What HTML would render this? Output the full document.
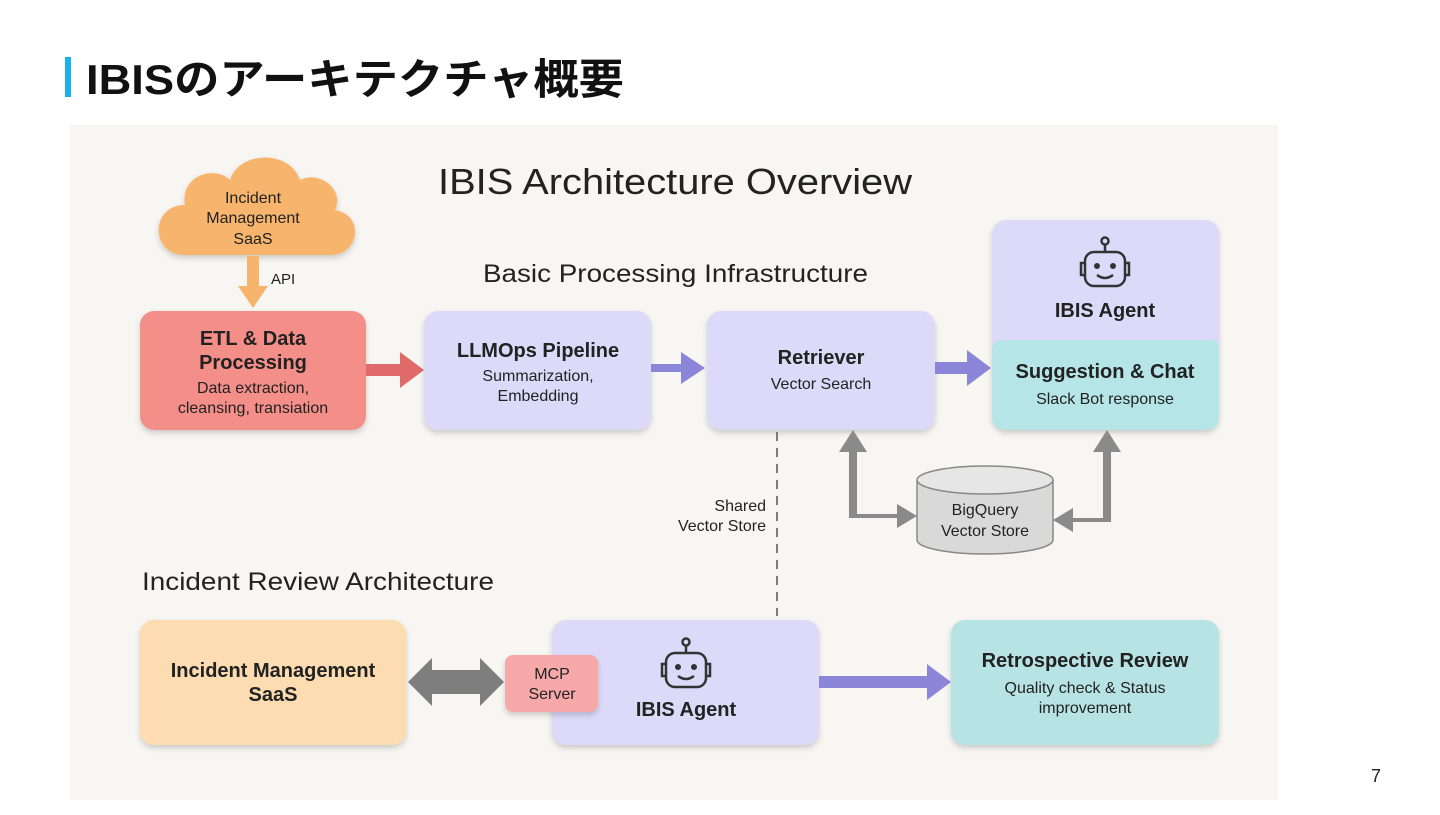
<!DOCTYPE html>
<html><head><meta charset="utf-8"><style>
body{margin:0;width:1440px;height:810px;background:#fff;overflow:hidden;font-family:"Liberation Sans","Noto Sans CJK JP",sans-serif}
</style></head><body>
<svg width="1440" height="810" viewBox="0 0 1440 810" xmlns="http://www.w3.org/2000/svg" font-family="Liberation Sans, Noto Sans CJK JP, sans-serif">
<defs>
<filter id="sh" x="-10%" y="-10%" width="120%" height="130%"><feDropShadow dx="0" dy="3" stdDeviation="3" flood-color="#000" flood-opacity="0.18"/></filter>
<g id="robot" fill="none" stroke="#333" stroke-width="2.5">
<circle cx="0" cy="-22" r="3.5"/><line x1="0" y1="-18" x2="0" y2="-11"/>
<rect x="-20" y="-11" width="40" height="34" rx="9"/>
<path d="M-20 0 h-4 v12 h4 M20 0 h4 v12 h-4"/>
<circle cx="-8" cy="3" r="3" fill="#333" stroke="none"/><circle cx="8" cy="3" r="3" fill="#333" stroke="none"/>
<path d="M-8 12 q8 6 16 0"/>
</g>
</defs>
<rect x="65" y="57" width="6" height="40" fill="#1ab0e8"/>
<text x="86" y="94" font-size="42" font-weight="bold" fill="#111" textLength="538" lengthAdjust="spacingAndGlyphs">IBISのアーキテクチャ概要</text>
<rect x="70" y="125" width="1208" height="675" fill="#f7f6f2"/>
<text x="438" y="194" font-size="36" fill="#222" textLength="474" lengthAdjust="spacingAndGlyphs">IBIS Architecture Overview</text>
<text x="483" y="282" font-size="25" fill="#222" textLength="385" lengthAdjust="spacingAndGlyphs">Basic Processing Infrastructure</text>
<text x="142" y="590" font-size="25" fill="#222" textLength="352" lengthAdjust="spacingAndGlyphs">Incident Review Architecture</text>
<!-- cloud -->
<path filter="url(#sh)" fill="#f7b46d" d="M185 255 C150 255 150 205 185 205 C180 175 215 165 230 180 C240 150 290 150 300 180 C320 170 345 190 335 210 C365 215 360 255 330 255 Z"/>
<g font-size="16" fill="#222" text-anchor="middle"><text x="253" y="203">Incident</text><text x="253" y="223">Management</text><text x="253" y="244">SaaS</text></g>
<path d="M247 256 h12 v30 h9 l-15 22 l-15 -22 h9 z" fill="#f7b46d"/>
<text x="271" y="284" font-size="15" fill="#222">API</text>
<!-- top boxes -->
<rect x="140" y="311" width="226" height="119" rx="14" fill="#f48e88" filter="url(#sh)"/>
<g text-anchor="middle" fill="#222"><text x="253" y="345" font-size="20" font-weight="bold">ETL &amp; Data</text><text x="253" y="369" font-size="20" font-weight="bold">Processing</text><text x="253" y="393" font-size="16">Data extraction,</text><text x="253" y="413" font-size="16">cleansing, transiation</text></g>
<path d="M366 364 h34 v-12 l24 18 l-24 18 v-12 h-34 z" fill="#e06a6a"/>
<rect x="424" y="311" width="227" height="119" rx="14" fill="#dcdaf8" filter="url(#sh)"/>
<g text-anchor="middle" fill="#222"><text x="538" y="357" font-size="20" font-weight="bold">LLMOps Pipeline</text><text x="538" y="381" font-size="16">Summarization,</text><text x="538" y="401" font-size="16">Embedding</text></g>
<path d="M651 364 h30 v-12 l24 16 l-24 16 v-12 h-30 z" fill="#8b86d8"/>
<rect x="707" y="311" width="228" height="119" rx="14" fill="#dcdaf8" filter="url(#sh)"/>
<g text-anchor="middle" fill="#222"><text x="821" y="364" font-size="20" font-weight="bold">Retriever</text><text x="821" y="389" font-size="16">Vector Search</text></g>
<path d="M935 362 h32 v-12 l24 18 l-24 18 v-12 h-32 z" fill="#8b86d8"/>
<rect x="992" y="220" width="227" height="210" rx="14" fill="#dcdaf8" filter="url(#sh)"/>
<path d="M992 350 q0 -10 10 -10 h207 q10 0 10 10 v66 q0 14 -14 14 h-199 q-14 0 -14 -14 z" fill="#b5e5e6"/>
<use href="#robot" x="1105" y="263"/>
<g text-anchor="middle" fill="#222"><text x="1105" y="317" font-size="20" font-weight="bold">IBIS Agent</text><text x="1105" y="378" font-size="20" font-weight="bold">Suggestion &amp; Chat</text><text x="1105" y="404" font-size="16">Slack Bot response</text></g>
<!-- dashed -->
<line x1="777" y1="432" x2="777" y2="616" stroke="#555" stroke-width="1.5" stroke-dasharray="9 7"/>
<g text-anchor="end" font-size="16" fill="#222"><text x="766" y="511">Shared</text><text x="766" y="531">Vector Store</text></g>
<!-- grey arrows -->
<path d="M857 452 v62 h40 v-10 l20 12 l-20 12 v-10 h-48 v-66 h-10 l14 -22 l14 22 z" fill="#8a8a8a"/>
<path d="M1111 452 v70 h-38 v10 l-20 -12 l20 -12 v10 h30 v-66 h-10 l14 -22 l14 22 z" fill="#8a8a8a"/>
<!-- cylinder -->
<path d="M917 480 v60 a68 14 0 0 0 136 0 v-60" fill="#d9d9d9" stroke="#888" stroke-width="1.5"/>
<ellipse cx="985" cy="480" rx="68" ry="14" fill="#e6e6e6" stroke="#888" stroke-width="1.5"/>
<g text-anchor="middle" font-size="16" fill="#222"><text x="985" y="515">BigQuery</text><text x="985" y="536">Vector Store</text></g>
<!-- bottom -->
<rect x="140" y="620" width="266" height="125" rx="14" fill="#fcdcb0" filter="url(#sh)"/>
<g text-anchor="middle" fill="#222" font-size="20" font-weight="bold"><text x="273" y="677">Incident Management</text><text x="273" y="701">SaaS</text></g>
<path d="M408 682 l24 -24 v12 h48 v-12 l24 24 l-24 24 v-12 h-48 v12 z" fill="#7e7e7e"/>
<rect x="552" y="620" width="267" height="125" rx="14" fill="#dcdaf8" filter="url(#sh)"/>
<rect x="505" y="655" width="93" height="57" rx="8" fill="#f7a8a8" filter="url(#sh)"/>
<g text-anchor="middle" font-size="16" fill="#222"><text x="552" y="679">MCP</text><text x="552" y="699">Server</text></g>
<use href="#robot" x="686" y="664"/>
<text x="686" y="716" text-anchor="middle" font-size="20" font-weight="bold" fill="#222">IBIS Agent</text>
<path d="M819 676 h108 v-12 l24 18 l-24 18 v-12 h-108 z" fill="#8b86d8"/>
<rect x="951" y="620" width="268" height="125" rx="14" fill="#b7e3e5" filter="url(#sh)"/>
<g text-anchor="middle" fill="#222"><text x="1085" y="667" font-size="20" font-weight="bold">Retrospective Review</text><text x="1085" y="693" font-size="16">Quality check &amp; Status</text><text x="1085" y="713" font-size="16">improvement</text></g>
<text x="1371" y="782" font-size="18" fill="#222">7</text>
</svg>
</body></html>
